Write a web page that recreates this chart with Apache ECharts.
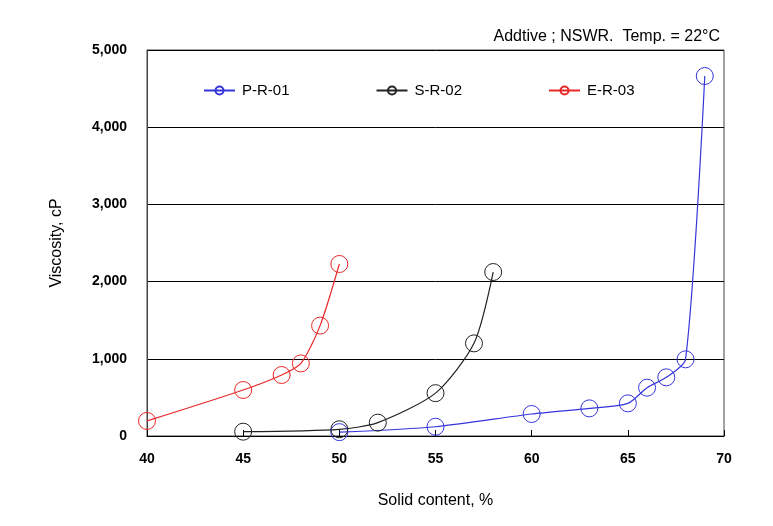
<!DOCTYPE html>
<html><head><meta charset="utf-8">
<script src="https://cdn.jsdelivr.net/npm/echarts@6/dist/echarts.min.js"></script>
<style>html,body{margin:0;padding:0;background:#fff}#c{width:773px;height:526px}</style>
</head><body><div id="c"></div>
<script>
const seriesNames = ["P-R-01", "S-R-02", "E-R-03"];
const colors = ["#3535dc", "#222222", "#e82828"];
const pX = [50, 55, 60, 63, 65, 66, 67, 68, 69];
const pY = [50, 120, 285, 358, 423, 626, 760, 993, 4663];
const sX = [45, 50, 52, 55, 57, 58];
const sY = [56, 87, 173, 555, 1200, 2124];
const eX = [40, 45, 47, 48, 49, 50];
const eY = [195, 596, 790, 940, 1430, 2228];
const xTicks = [40, 45, 50, 55, 60, 65, 70];
const yTicks = [0, 1000, 2000, 3000, 4000, 5000];
const titleText = "Addtive ; NSWR.  Temp. = 22\u00B0C";

const font = "Liberation Sans, Arial, sans-serif";
function pairs(xs, ys){ return xs.map((x,i)=>[x, ys[i]]); }
const allData = [pairs(pX,pY), pairs(sX,sY), pairs(eX,eY)];

const chart = echarts.init(document.getElementById('c'), null, {renderer:'canvas'});
chart.setOption({
  animation: false,
  backgroundColor: '#fff',
  title: {
    text: titleText, right: 48, top: 24,
    textStyle: {fontFamily: font, fontSize: 16, fontWeight: 'normal', color: '#000'}
  },
  legend: {
    top: 78, left: 198, itemGap: 86, itemWidth: 31, itemHeight: 10,
    data: seriesNames.map(n => ({name: n, itemStyle: {color: 'transparent'}})),
    textStyle: {fontFamily: font, fontSize: 15, color: '#000', padding: [0,0,0,2]}
  },
  grid: {left: 147, right: 49, top: 50, bottom: 90, show: true, borderColor: '#444', borderWidth: 1},
  xAxis: {
    type: 'value', min: xTicks[0], max: xTicks[xTicks.length-1], interval: 5,
    name: 'Solid content, %', nameLocation: 'middle', nameGap: 57,
    nameTextStyle: {fontFamily: font, fontSize: 16, color: '#000'},
    axisLine: {onZero: false, lineStyle: {color: '#000'}},
    axisTick: {inside: true, length: 6, lineStyle: {color: '#000'}},
    axisLabel: {fontFamily: font, fontSize: 14, fontWeight: 'bold', color: '#000', margin: 16},
    splitLine: {show: false}
  },
  yAxis: {
    type: 'value', min: yTicks[0], max: yTicks[yTicks.length-1], interval: 1000,
    name: 'Viscosity, cP', nameLocation: 'middle', nameGap: 82, nameRotate: 90,
    nameTextStyle: {fontFamily: font, fontSize: 16, color: '#000'},
    axisLine: {show: true, lineStyle: {color: '#444'}},
    axisTick: {show: false},
    axisLabel: {fontFamily: font, fontSize: 14, fontWeight: 'bold', color: '#000', margin: 20,
      formatter: v => v.toLocaleString('en-US')},
    splitLine: {show: true, lineStyle: {color: '#000', width: 1}}
  },
  series: seriesNames.map((n, i) => ({
    name: n, type: 'line', data: allData[i],
    symbol: 'circle', symbolSize: 17, smooth: 0.25,
    color: colors[i],
    lineStyle: {color: colors[i], width: 1.2},
    itemStyle: {color: 'transparent', borderColor: colors[i], borderWidth: 1}
  }))
});
</script></body></html>
